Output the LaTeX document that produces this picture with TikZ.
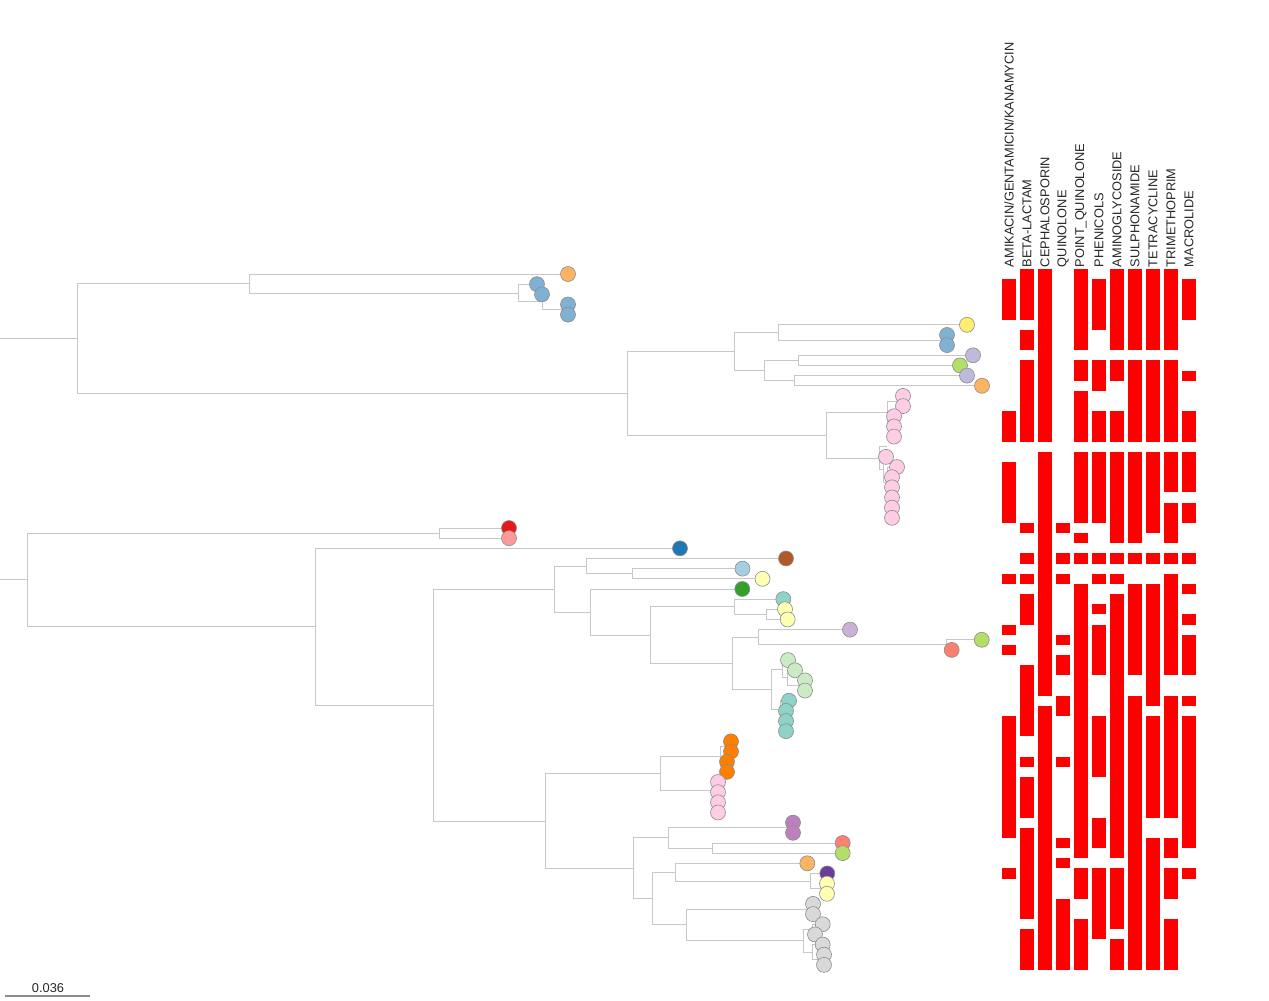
\documentclass[tikz,border=0pt]{standalone}
\usepackage{fontspec}
\setmainfont{Liberation Sans}
\usetikzlibrary{backgrounds}

\definecolor{corange}{HTML}{FDB462}
\definecolor{csteel}{HTML}{80B1D3}
\definecolor{cyellow}{HTML}{FFED6F}
\definecolor{clav}{HTML}{BEBADA}
\definecolor{clime}{HTML}{B3DE69}
\definecolor{cpink}{HTML}{FCCDE5}
\definecolor{cred}{HTML}{E31A1C}
\definecolor{crose}{HTML}{FB9A99}
\definecolor{cblue}{HTML}{1F78B4}
\definecolor{cbrown}{HTML}{B15928}
\definecolor{cskye}{HTML}{A6CEE3}
\definecolor{cpale}{HTML}{FFFFB3}
\definecolor{cgreen}{HTML}{33A02C}
\definecolor{cteal}{HTML}{8DD3C7}
\definecolor{clilac}{HTML}{CAB2D6}
\definecolor{csalmon}{HTML}{FB8072}
\definecolor{cmint}{HTML}{CCEBC5}
\definecolor{cflame}{HTML}{FF7F00}
\definecolor{cmauve}{HTML}{BC80BD}
\definecolor{cviolet}{HTML}{6A3D9A}
\definecolor{cgrey}{HTML}{D9D9D9}
\definecolor{hitred}{HTML}{FF0000}

\begin{document}
\begin{tikzpicture}[x=1pt, y=-10.16pt,
  leaf/.style={circle, draw=black!45, line width=0.6pt, minimum size=15pt, inner sep=0pt},
  branch/.style={draw=black!22, line width=0.9pt},
  hit/.style={fill=hitred},
  drug/.style={rotate=90, anchor=west, inner sep=0pt, text=black!85, font=\fontsize{12.8}{15}\selectfont}]

  \useasboundingbox (0,-26.969) rectangle (1269,71.555);

  % -- Leaves (one row each) --
  \foreach \i/\x/\c in {0/568/corange, 1/537/csteel, 2/542/csteel, 3/568/csteel, 4/568/csteel,
      5/967/cyellow, 6/947/csteel, 7/947/csteel, 8/973/clav, 9/960/clime, 10/967/clav,
      11/982/corange, 12/903/cpink, 13/903/cpink, 14/894/cpink, 15/894/cpink, 16/894/cpink,
      18/886/cpink, 19/897/cpink, 20/892/cpink, 21/892/cpink, 22/892/cpink, 23/892/cpink,
      24/892/cpink, 25/509/cred, 26/509/crose, 27/680/cblue, 28/786/cbrown, 29/742.5/cskye,
      30/762.5/cpale, 31/742.3/cgreen, 32/783.3/cteal, 33/785/cpale, 34/787.7/cpale,
      35/850/clilac, 36/981.7/clime, 37/951.7/csalmon, 38/788/cmint, 39/795/cmint,
      40/805/cmint, 41/805/cmint, 42/789/cteal, 43/786/cteal, 44/786/cteal, 45/786/cteal,
      46/731/cflame, 47/731/cflame, 48/727/cflame, 49/727/cflame, 50/718/cpink, 51/718/cpink,
      52/718/cpink, 53/718/cpink, 54/793/cmauve, 55/793/cmauve, 56/842.7/csalmon,
      57/842.7/clime, 58/807.3/corange, 59/827.3/cviolet, 60/827/cpale, 61/827/cpale,
      62/813/cgrey, 63/813/cgrey, 64/822.7/cgrey, 65/815/cgrey, 66/822.7/cgrey,
      67/824/cgrey, 68/824/cgrey}
    \node[leaf, fill=\c] (l\i) at (\x,\i) {};
  \coordinate (l17) at (887,17);

  % -- Upper clade --
  \coordinate (rA) at (0,6.344);
  \coordinate (A) at (77,6.344);
  \coordinate (B) at (249,0.9375);
  \coordinate (D) at (518,1.875);
  \coordinate (E) at (542,2.75);
  \coordinate (F) at (568,3.5);
  \coordinate (C) at (627,11.75);
  \coordinate (G) at (734,7.625);
  \coordinate (I) at (778,5.75);
  \coordinate (K) at (947,6.5);
  \coordinate (J) at (764,9.5);
  \coordinate (L) at (798,8.5);
  \coordinate (M) at (794,10.5);
  \coordinate (H) at (826,15.875);
  \coordinate (N) at (887,13.625);
  \coordinate (P) at (903,12.5);
  \coordinate (Q) at (890,14.75);
  \coordinate (R) at (893,15.5);
  \coordinate (O) at (879,18.125);
  \coordinate (S) at (883,19.25);
  \coordinate (T) at (887,20.5);
  \coordinate (U) at (890,22);

  % -- Lower clade --
  \coordinate (rZ) at (0,30.1);
  \coordinate (Z) at (27,30.1);
  \coordinate (Y1) at (439,25.5);
  \coordinate (Y2) at (315,34.71);
  \coordinate (Y3) at (433,42.42);
  \coordinate (Y4) at (554.7,31.01);
  \coordinate (Y6) at (586.7,28.75);
  \coordinate (Y8) at (632.3,29.5);
  \coordinate (Y7) at (590.3,33.27);
  \coordinate (Y9) at (650.7,35.53);
  \coordinate (Y10) at (734.3,32.75);
  \coordinate (Y12) at (766.7,33.5);
  \coordinate (Y11) at (732.3,38.31);
  \coordinate (Y13) at (758.3,35.75);
  \coordinate (Y15) at (946.7,36.5);
  \coordinate (Y14) at (771.7,40.875);
  \coordinate (Y16) at (782.7,38.875);
  \coordinate (Y18) at (787,39.75);
  \coordinate (Y19) at (800,40.5);
  \coordinate (Y17) at (780,42.875);
  \coordinate (Y20) at (782,43.75);
  \coordinate (Y21) at (784,44.5);
  \coordinate (Y5) at (545,53.84);
  \coordinate (Y22) at (660,49.19);
  \coordinate (Y24) at (720,47.5);
  \coordinate (Y26) at (731,46.5);
  \coordinate (Y27) at (727,48.5);
  \coordinate (Y25) at (716,50.875);
  \coordinate (Y28) at (717,51.75);
  \coordinate (Y29) at (718,52.5);
  \coordinate (Y23) at (633.3,58.48);
  \coordinate (Y30) at (668.3,55.5);
  \coordinate (Y32) at (793,54.5);
  \coordinate (Y33) at (712.3,56.5);
  \coordinate (Y31) at (652.7,61.47);
  \coordinate (Y34) at (675.7,58.875);
  \coordinate (Y36) at (810,59.75);
  \coordinate (Y37) at (826,60.5);
  \coordinate (Y35) at (686.7,64.06);
  \coordinate (Y38) at (813,62.5);
  \coordinate (Y39) at (803.3,65.625);
  \coordinate (Y40) at (812,64.5);
  \coordinate (Y41) at (812,66.75);
  \coordinate (Y42) at (818,67.5);

  % -- Branches --
  \begin{pgfonlayer}{background}
    \draw[branch] (rA) -- (A);
    \draw[branch] (rZ) -- (Z);
    \foreach \p/\c in {A/B, A/C, B/l0, B/D, D/l1, D/E, E/l2, E/F, F/l3, F/l4,
        C/G, C/H, G/I, G/J, I/l5, I/K, K/l6, K/l7, J/L, J/M, L/l8, L/l9, M/l10, M/l11,
        H/N, H/O, N/P, N/Q, P/l12, P/l13, Q/l14, Q/R, R/l15, R/l16,
        O/l17, O/S, S/l18, S/T, T/l19, T/U, U/l20, U/l21, U/l22, U/l23, U/l24,
        Z/Y1, Z/Y2, Y1/l25, Y1/l26, Y2/l27, Y2/Y3, Y3/Y4, Y3/Y5,
        Y4/Y6, Y4/Y7, Y6/l28, Y6/Y8, Y8/l29, Y8/l30, Y7/l31, Y7/Y9,
        Y9/Y10, Y9/Y11, Y10/l32, Y10/Y12, Y12/l33, Y12/l34,
        Y11/Y13, Y11/Y14, Y13/l35, Y13/Y15, Y15/l36, Y15/l37,
        Y14/Y16, Y14/Y17, Y16/l38, Y16/Y18, Y18/l39, Y18/Y19, Y19/l40, Y19/l41,
        Y17/l42, Y17/Y20, Y20/l43, Y20/Y21, Y21/l44, Y21/l45,
        Y5/Y22, Y5/Y23, Y22/Y24, Y22/Y25, Y24/Y26, Y24/Y27, Y26/l46, Y26/l47,
        Y27/l48, Y27/l49, Y25/l50, Y25/Y28, Y28/l51, Y28/Y29, Y29/l52, Y29/l53,
        Y23/Y30, Y23/Y31, Y30/Y32, Y30/Y33, Y32/l54, Y32/l55, Y33/l56, Y33/l57,
        Y31/Y34, Y31/Y35, Y34/l58, Y34/Y36, Y36/l59, Y36/Y37, Y37/l60, Y37/l61,
        Y35/Y38, Y35/Y39, Y38/l62, Y38/l63, Y39/Y40, Y39/Y41, Y40/l64, Y40/l65,
        Y41/l66, Y41/Y42, Y42/l67, Y42/l68}
      \draw[branch] (\p) |- (\c.center);
  \end{pgfonlayer}

  % -- Resistance columns --
  \foreach \a/\b in {1/4, 14/16, 19/24, 30/30, 35/35, 37/37, 44/55, 59/59}
    \fill[hit] (1002,\a-0.5) rectangle ++(14,\b-\a+1);
  \foreach \a/\b in {0/4, 6/7, 9/16, 25/25, 28/28, 30/30, 32/34, 39/45, 48/48, 50/53, 55/63, 65/68}
    \fill[hit] (1020,\a-0.5) rectangle ++(14,\b-\a+1);
  \foreach \a/\b in {0/16, 18/41, 43/68}
    \fill[hit] (1038,\a-0.5) rectangle ++(14,\b-\a+1);
  \foreach \a/\b in {25/25, 28/28, 30/30, 36/36, 38/39, 42/43, 48/48, 56/56, 58/58, 62/68}
    \fill[hit] (1056,\a-0.5) rectangle ++(14,\b-\a+1);
  \foreach \a/\b in {0/7, 9/10, 12/16, 18/24, 26/26, 28/28, 31/57, 59/61, 64/68}
    \fill[hit] (1074,\a-0.5) rectangle ++(14,\b-\a+1);
  \foreach \a/\b in {1/5, 9/11, 14/16, 18/24, 28/28, 30/30, 33/33, 35/39, 44/49, 54/56, 59/65}
    \fill[hit] (1092,\a-0.5) rectangle ++(14,\b-\a+1);
  \foreach \a/\b in {0/7, 9/10, 14/16, 18/26, 28/28, 30/30, 32/57, 59/64, 66/68}
    \fill[hit] (1110,\a-0.5) rectangle ++(14,\b-\a+1);
  \foreach \a/\b in {0/7, 9/16, 18/26, 28/28, 31/39, 42/68}
    \fill[hit] (1128,\a-0.5) rectangle ++(14,\b-\a+1);
  \foreach \a/\b in {0/7, 9/16, 18/25, 28/28, 31/42, 44/53, 56/68}
    \fill[hit] (1146,\a-0.5) rectangle ++(14,\b-\a+1);
  \foreach \a/\b in {0/7, 9/16, 18/21, 23/26, 28/28, 30/39, 42/53, 56/57, 59/61, 64/68}
    \fill[hit] (1164,\a-0.5) rectangle ++(14,\b-\a+1);
  \foreach \a/\b in {1/4, 10/10, 14/16, 18/21, 23/24, 28/28, 31/31, 34/34, 36/39, 42/42, 44/56, 59/59}
    \fill[hit] (1182,\a-0.5) rectangle ++(14,\b-\a+1);

  % -- Column headings --
  \node[drug] (hAmik) at (1009,-0.65) {AMIKACIN/GENTAMICIN/KANAMYCIN};
  \node[drug] (hBeta) at (1027,-0.65) {BETA-LACTAM};
  \node[drug] (hCeph) at (1045,-0.65) {CEPHALOSPORIN};
  \node[drug] (hQuin) at (1063,-0.65) {QUINOLONE};
  \node[drug] (hPoint) at (1081,-0.65) {POINT\_QUINOLONE};
  \node[drug] (hPhen) at (1099,-0.65) {PHENICOLS};
  \node[drug] (hAmino) at (1117,-0.65) {AMINOGLYCOSIDE};
  \node[drug] (hSulph) at (1135,-0.65) {SULPHONAMIDE};
  \node[drug] (hTetra) at (1153,-0.65) {TETRACYCLINE};
  \node[drug] (hTrim) at (1171,-0.65) {TRIMETHOPRIM};
  \node[drug] (hMacro) at (1189,-0.65) {MACROLIDE};

  % -- Scale bar --
  \coordinate (sb0) at (5,71.06);
  \coordinate (sb1) at (90,71.06);
  \draw[draw=black!45, line width=1.5pt] (sb0) -- (sb1);
  \node[text=black!85, font=\fontsize{12.8}{15}\selectfont] (sbl) at (48,70.3) {0.036};

\end{tikzpicture}
\end{document}
